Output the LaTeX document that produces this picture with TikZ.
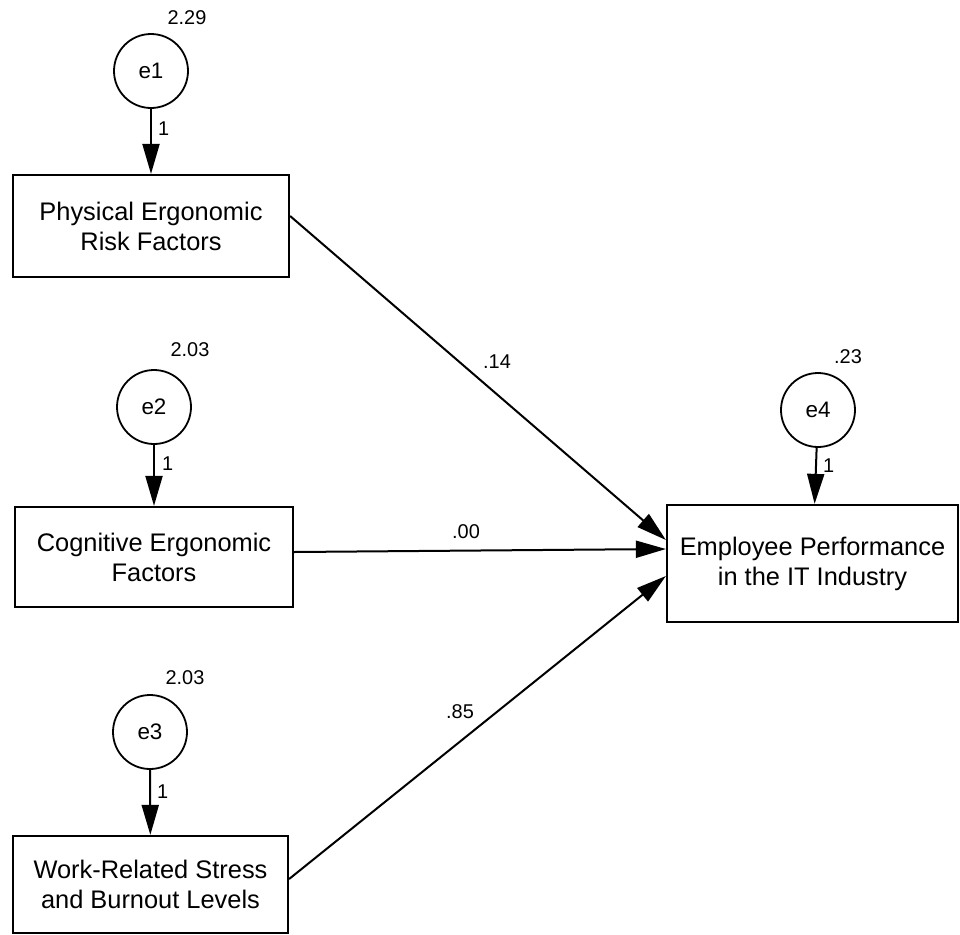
\documentclass[tikz,border=0pt]{standalone}
\usepackage{fontspec}
\setmainfont{Liberation Sans}
\usetikzlibrary{arrows.meta}
\usetikzlibrary{positioning}

\begin{document}
\begin{tikzpicture}[x=1bp, y=-1bp,
		every node/.style={inner sep=1bp},
		varbox/.style={draw, line width=2.2bp, minimum width=#1, align=center, font=\fontsize{25.5}{30}\selectfont},
		errc/.style={draw, circle, line width=1.8bp, minimum size=74bp, font=\fontsize{22.5}{26}\selectfont},
		lbl/.style={font=\fontsize{20}{22}\selectfont},
		path/.style={line width=2bp, -{Triangle[length=30bp, width=17bp]}}]
		\useasboundingbox (0,0) rectangle (960,935);
		%
		%observed variables
		\node[varbox=276bp, minimum height=102bp] (phys) at (151,226) {Physical Ergonomic\\Risk Factors};
		\node[varbox=278bp, minimum height=100bp] (cogn) at (154,557) {Cognitive Ergonomic\\Factors};
		\node[varbox=275bp, minimum height=97bp] (work) at (150.5,884.5) {Work-Related Stress\\and Burnout Levels};
		\node[varbox=291bp, minimum height=117bp] (perf) at (812.5,563.5) {Employee Performance\\in the IT Industry};
		%
		%error terms
		\node[errc] (e1) at (151,71) {e1};
		\node[errc] (e2) at (154,407) {e2};
		\node[errc] (e3) at (150,732) {e3};
		\node[errc] (e4) at (818,410) {e4};
		%
		%variances
		\node[lbl] (v1) at (187,18) {2.29};
		\node[lbl] (v2) at (190,350) {2.03};
		\node[lbl] (v3) at (185,678) {2.03};
		\node[lbl] (v4) at (848,357) {.23};
		%
		%error paths
		\draw[path] (e1) -- node[lbl, pos=0.3, right=5bp]{1} (phys);
		\draw[path] (e2) -- node[lbl, pos=0.3, right=6bp]{1} (cogn);
		\draw[path] (e3) -- node[lbl, pos=0.34, right=5bp]{1} (work);
		\draw[path] (e4) -- node[lbl, pos=0.31, right=5bp]{1} (perf);
		%
		%regression paths
		\draw[path] ([yshift=10bp]phys.east) -- ([yshift=23.5bp]perf.west);
		\draw[path] ([yshift=5bp]cogn.east) -- ([yshift=14.5bp]perf.west);
		\draw[path] ([yshift=5.5bp]work.east) -- ([yshift=-12.5bp]perf.west);
		%
		%weights
		\node[lbl] (w1) at (497,362) {.14};
		\node[lbl] (w2) at (466,532) {.00};
		\node[lbl] (w3) at (460,712) {.85};
	\end{tikzpicture}
\end{document}
